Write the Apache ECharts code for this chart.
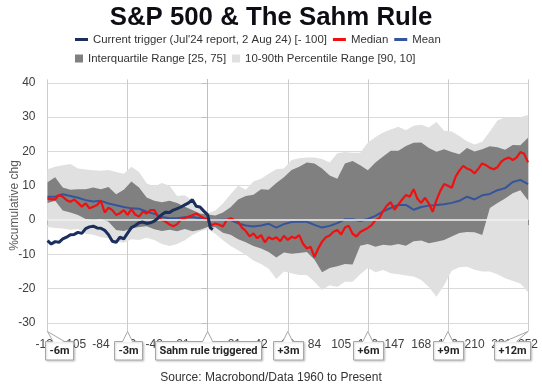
<!DOCTYPE html>
<html><head><meta charset="utf-8">
<script src="https://cdn.jsdelivr.net/npm/echarts@6/dist/echarts.min.js"></script>
<style>html,body{margin:0;padding:0;background:#fff}#c{width:542px;height:388px}</style>
</head><body><div id="c"></div>
<script>
// ---- data (trading days relative to Sahm rule trigger) ----
const days = [-126,-120,-114,-108,-102,-96,-90,-84,-78,-72,-66,-60,-54,-48,-42,-36,-30,-24,-18,-12,-6,0,6,12,18,24,30,36,42,48,54,60,66,72,78,84,90,96,102,108,114,120,126,132,138,144,150,156,162,168,174,180,186,192,198,204,210,216,222,228,234,240,246,252];
const mean = [6.8,6.8,7.5,7.0,6.5,5.8,5.4,5.6,4.8,4.3,3.8,3.4,3.3,2.4,1.8,0.9,0.5,0.5,0.8,0.9,0.5,0.1,0.0,0.1,0.0,-1.0,-1.6,-1.9,-1.6,-1.1,-2.2,-1.2,-0.6,-0.4,-0.5,-1.4,-2.2,-1.7,-0.9,0.2,0.2,-0.3,0.3,1.2,2.5,3.5,4.4,4.4,3.0,3.8,4.2,4.4,4.6,5.0,5.6,6.8,6.0,7.2,7.6,8.7,9.3,11.1,11.7,10.5];
const q75 = [11.0,12.5,9.5,8.8,9.0,9.0,9.5,9.0,9.6,7.5,8.8,11.2,9.5,6.6,5.6,5.2,5.6,5.0,3.9,2.9,1.9,1.6,1.3,2.2,3.7,6.0,7.0,7.4,9.0,8.8,10.8,12.5,14.6,15.5,16.8,16.5,15.0,13.0,12.0,16.5,17.2,16.0,14.5,16.8,18.5,20.2,20.2,21.6,22.5,22.6,21.0,19.9,20.6,19.8,19.2,21.0,20.0,20.6,21.5,21.2,20.5,21.9,21.8,24.0];
const q25 = [5.0,5.6,2.8,2.2,1.5,0.3,0.0,0.3,-0.5,-2.9,-3.2,-2.5,-2.0,-1.8,-2.7,-3.2,-2.8,-3.3,-2.6,-3.3,-2.8,-2.0,-2.1,-3.7,-4.3,-5.6,-6.5,-7.6,-8.3,-9.3,-10.9,-9.5,-9.8,-9.6,-9.3,-11.5,-15.2,-14.0,-13.5,-12.8,-13.0,-7.5,-7.0,-7.8,-7.2,-7.4,-7.0,-7.5,-6.2,-6.0,-6.8,-6.3,-5.8,-4.8,-3.8,-3.5,-3.6,-4.4,3.5,5.0,6.3,7.8,8.7,5.8];
const p90 = [14.8,15.5,16.0,16.3,15.0,14.7,14.5,14.4,14.6,14.0,13.5,15.5,14.0,10.7,9.8,10.8,10.0,7.0,7.2,5.8,3.6,2.0,2.8,4.8,7.5,10.0,8.8,11.2,12.0,13.5,14.8,15.0,17.5,18.0,18.2,18.2,17.8,16.8,19.5,19.8,19.6,19.6,22.5,24.2,25.5,26.4,27.2,26.2,27.5,27.8,27.0,28.6,26.0,25.8,24.5,23.0,22.0,22.8,25.8,29.0,30.0,29.8,30.0,30.6];
const p10 = [-2.0,-2.3,-2.5,-2.8,-2.6,-4.0,-4.3,-5.0,-5.3,-6.2,-6.6,-5.6,-5.8,-5.2,-5.8,-7.0,-7.6,-7.0,-5.9,-4.4,-3.3,-2.6,-4.0,-5.9,-7.6,-8.8,-10.2,-11.8,-12.8,-14.2,-17.2,-15.0,-15.5,-16.0,-16.0,-18.0,-20.4,-19.0,-19.5,-18.0,-18.0,-15.8,-14.0,-15.2,-14.6,-15.5,-15.8,-16.2,-16.5,-17.5,-19.5,-22.4,-19.0,-14.8,-13.8,-13.6,-14.5,-15.0,-15.0,-15.8,-17.0,-17.8,-18.5,-21.0];
const medianDays = [-126,-123,-120,-117,-114,-111,-108,-105,-102,-99,-96,-93,-90,-87,-84,-81,-78,-75,-72,-69,-66,-63,-60,-57,-54,-51,-48,-45,-42,-39,-36,-33,-30,-27,-24,-21,-18,-15,-12,-9,-6,-3,0,3,6,9,12,15,18,21,24,27,30,33,36,39,42,45,48,51,54,57,60,63,66,69,72,75,78,81,84,87,90,93,96,99,102,105,108,111,114,117,120,123,126,129,132,135,138,141,144,147,150,153,156,159,162,165,168,171,174,177,180,183,186,189,192,195,198,201,204,207,210,213,216,219,222,225,228,231,234,237,240,243,246,249,252];
const median = [6.3,6.0,6.0,7.3,6.8,5.8,5.3,6.0,5.0,3.9,4.9,3.4,3.9,4.4,5.6,2.2,3.6,2.9,1.5,2.0,2.9,1.5,3.2,1.6,1.0,2.4,1.9,2.9,2.9,1.0,0.0,-0.5,-1.3,-1.8,-1.2,0.2,0.6,1.0,1.4,1.9,1.2,0.6,0.0,-1.5,-1.0,-1.4,-1.9,0.0,0.5,0.0,-0.5,-2.2,-3.2,-4.8,-3.9,-5.3,-4.4,-6.5,-5.0,-5.6,-5.0,-6.2,-4.6,-5.8,-4.9,-5.3,-4.4,-6.9,-8.3,-7.8,-10.8,-8.3,-6.3,-5.0,-4.5,-3.4,-2.9,-4.2,-2.2,-1.7,-4.0,-4.8,-3.5,-2.9,-2.3,-1.5,0.0,0.5,2.6,4.2,5.2,3.0,4.5,6.0,7.3,6.8,9.0,6.2,5.0,6.5,4.8,2.4,5.8,8.5,10.5,10.0,9.4,12.6,14.4,15.8,15.0,14.6,13.6,15.0,16.5,16.0,15.2,14.8,15.4,17.0,17.8,18.2,17.5,18.2,19.8,19.3,16.8];
const triggerDays = [-126,-123,-120,-117,-114,-111,-108,-105,-102,-99,-96,-93,-90,-87,-84,-81,-78,-75,-72,-69,-66,-63,-60,-57,-54,-51,-48,-45,-42,-39,-36,-33,-30,-27,-24,-21,-18,-15,-12,-9,-6,-3,0,2,4];
const trigger = [-6.0,-7.0,-6.3,-6.5,-5.5,-5.0,-4.3,-4.2,-3.6,-3.9,-2.5,-2.0,-1.8,-2.3,-2.4,-3.0,-4.3,-6.2,-6.5,-5.0,-5.5,-3.8,-2.2,-1.6,-0.8,-0.6,-1.0,-0.8,-0.3,0.6,1.6,2.3,2.2,2.9,3.3,3.8,4.4,5.0,5.9,4.0,3.8,2.6,1.5,-2.2,-2.8];
const yTicks = [-30,-20,-10,0,10,20,30,40];
const calloutDays = [-126,-63,0,63,126,189,252];
const calloutLabels = ['-6m','-3m','Sahm rule triggered','+3m','+6m','+9m','+12m'];

const TRIG = "Current trigger (Jul'24 report, 2 Aug 24) [- 100]";
const IQR = 'Interquartile Range [25, 75]';
const P1090 = '10-90th Percentile Range [90, 10]';
const Y_MIN = -32.5, Y_MAX = 41;
const FONT = '"Liberation Sans", Arial, sans-serif';
const LIGHT = '#e0e0e0', DARK = '#808080';

const pairs = (xs, ys) => xs.map((x, i) => [x, ys[i]]);
const mctx = document.createElement('canvas').getContext('2d');
mctx.font = 'bold 11px Roboto';
const textW = t => mctx.measureText(t).width;

// band polygon between an upper and lower array, drawn through the axes
function bandRenderer(upper, lower, color) {
  return function (params, api) {
    if (params.dataIndex !== 0) return null;
    const top = days.map((d, i) => api.coord([d, upper[i]]));
    const bot = days.map((d, i) => api.coord([d, lower[i]])).reverse();
    return {type: 'polygon', shape: {points: top.concat(bot)}, style: {fill: color, stroke: null}};
  };
}

const chart = echarts.init(document.getElementById('c'));
const option = {
  animation: false,
  backgroundColor: '#fff',
  title: [
    {text: 'S&P 500 & The Sahm Rule', left: 'center', top: 3, padding: 0,
     textStyle: {fontFamily: FONT, fontSize: 25.8, fontWeight: 'bold', color: '#0d0d14', lineHeight: 30}},
    {text: 'Source: Macrobond/Data 1960 to Present', left: 'center', top: 370, padding: 0,
     textStyle: {fontFamily: FONT, fontSize: 12, fontWeight: 'normal', color: '#333', lineHeight: 16}}
  ],
  legend: [
    {data: [TRIG, 'Median', 'Mean'], left: 75, top: 34, padding: 0, itemGap: 6, itemWidth: 13, itemHeight: 3,
     icon: 'rect', selectedMode: false, textStyle: {fontFamily: FONT, fontSize: 11.4, color: '#333'}},
    {data: [IQR, P1090], left: 75, top: 53, padding: 0, itemGap: 6, itemWidth: 8, itemHeight: 8,
     icon: 'rect', selectedMode: false, textStyle: {fontFamily: FONT, fontSize: 11.4, color: '#333'}}
  ],
  grid: {left: 47.5, right: 14, top: 79.4, bottom: 56.5, containLabel: false, outerBoundsMode: 'none'},
  xAxis: [
    {type: 'value', min: -126, max: 252, interval: 21,
     axisLine: {show: false}, axisTick: {show: true, length: 5, lineStyle: {color: '#8c8c8c'}},
     splitLine: {show: false},
     axisLabel: {fontFamily: FONT, fontSize: 12, color: '#404040', margin: 7, showMinLabel: true, showMaxLabel: true}},
    {type: 'value', min: -126, max: 252, interval: 63, position: 'bottom',
     axisLine: {show: false}, axisTick: {show: false}, axisLabel: {show: false},
     splitLine: {show: true, lineStyle: {color: '#cccccc', width: 1}}}
  ],
  yAxis: {
    type: 'value', min: Y_MIN, max: Y_MAX,
    axisLine: {show: true, lineStyle: {color: '#bfbfbf'}},
    axisTick: {show: true, length: 6, customValues: yTicks, lineStyle: {color: '#bfbfbf'}},
    axisLabel: {customValues: yTicks, fontFamily: FONT, fontSize: 12, color: '#404040', margin: 12},
    splitLine: {show: true, lineStyle: {color: '#dadada'}},
    name: '%cumulative chg', nameLocation: 'middle', nameGap: 33, nameMoveOverlap: false,
    nameTextStyle: {fontFamily: FONT, fontSize: 12, color: '#595959', verticalAlign: 'middle'}
  },
  series: [
    {name: P1090, type: 'custom', data: pairs(days, p90), encode: {x: 0, y: 1}, silent: true, z: 1,
     itemStyle: {color: LIGHT}, renderItem: bandRenderer(p90, p10, LIGHT)},
    {name: IQR, type: 'custom', data: pairs(days, q75), encode: {x: 0, y: 1}, silent: true, z: 1,
     itemStyle: {color: DARK}, renderItem: bandRenderer(q75, q25, DARK)},
    {name: 'zero', type: 'line', data: [], symbol: 'none', silent: true, z: 2,
     markLine: {silent: true, symbol: 'none', label: {show: false}, animation: false,
       lineStyle: {color: '#f2f2f2', width: 1.5, type: 'solid'}, data: [{yAxis: 0}]}},
    {name: 'Mean', type: 'line', data: pairs(days, mean), symbol: 'none',
     lineStyle: {color: '#34549c', width: 2}, itemStyle: {color: '#34549c'}, z: 3},
    {name: 'Median', type: 'line', data: pairs(medianDays, median), symbol: 'none',
     lineStyle: {color: '#f01010', width: 2.2}, itemStyle: {color: '#f01010'}, z: 4},
    {name: TRIG, type: 'line', data: pairs(triggerDays, trigger), symbol: 'none',
     lineStyle: {color: '#1b2f5c', width: 3}, itemStyle: {color: '#1b2f5c'}, z: 5},
    {name: 'callouts', type: 'custom', data: calloutDays.map(d => [d, Y_MIN]), encode: {x: 0, y: 1},
     clip: false, silent: true, z: 10,
     renderItem: function (params, api) {
       const i = params.dataIndex;
       const ap = api.coord([api.value(0), Y_MIN]);
       const ax = ap[0], ay = ap[1];
       const label = calloutLabels[i];
       const w = Math.round(textW(label) + 8), h = 18.5;
       const cs = params.coordSys;
       let bx = ax - w / 2, b1 = ax - 5, b2 = ax + 5;
       if (bx < cs.x - 3) { bx = cs.x - 3; b1 = bx + 8.5; b2 = bx + 20; }
       if (bx + w > cs.x + cs.width + 1.5) { bx = cs.x + cs.width + 1.5 - w; b1 = bx + 11; b2 = bx + 23; }
       bx = Math.round(bx) + 0.5;
       const by = Math.round(ay + 9) + 0.5;
       return {type: 'group', children: [
         {type: 'rect', shape: {x: bx, y: by, width: w, height: h},
          style: {fill: '#fff', stroke: '#a6a6a6', lineWidth: 1, shadowBlur: 2, shadowOffsetX: 1, shadowOffsetY: 1, shadowColor: 'rgba(0,0,0,0.18)'}},
         {type: 'polygon', shape: {points: [[b1, by + 0.8], [ax, ay], [b2, by + 0.8]]}, style: {fill: '#fff'}},
         {type: 'polyline', shape: {points: [[b1, by], [ax, ay], [b2, by]]}, style: {stroke: '#a6a6a6', lineWidth: 1, fill: null}},
         {type: 'text', style: {text: label, x: bx + w / 2, y: by + h / 2 + 0.5, align: 'center', verticalAlign: 'middle',
           font: 'bold 11px Roboto', fill: '#262626'}}
       ]};
     }}
  ]
};
chart.setOption(option);
</script></body></html>
